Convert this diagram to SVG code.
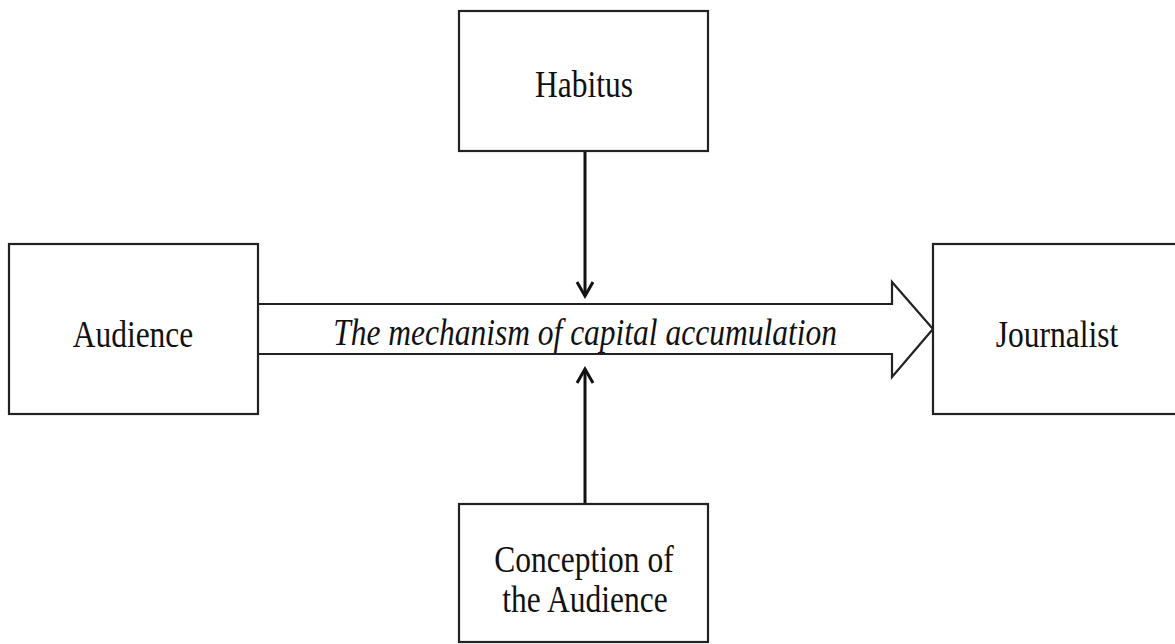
<svg xmlns="http://www.w3.org/2000/svg" width="1175" height="644" viewBox="0 0 1175 644">
<style>
.box{fill:#fff;stroke:#222;stroke-width:2.2}
.t{font-family:"Liberation Serif","Times New Roman",serif;font-size:31.5px;fill:#111;text-anchor:middle}
.it{font-style:italic}
.ln{stroke:#111;stroke-width:3;fill:none}
.big{fill:#fff;stroke:#222;stroke-width:2.2;stroke-linejoin:miter}
</style>
<defs>
<marker id="ah" viewBox="0 0 20 20" refX="17" refY="10" markerWidth="20" markerHeight="20" markerUnits="userSpaceOnUse" orient="auto">
<path d="M3,2 L17,10 L3,18" fill="none" stroke="#111" stroke-width="3"/>
</marker>
</defs>
<rect width="1175" height="644" fill="#fff"/>
<g id="connectors">
<path class="big" d="M257,304 H892 V282 L933,329 L892,377 V354 H257"/>
<line class="ln" x1="585" y1="151" x2="585" y2="296" marker-end="url(#ah)"/>
<line class="ln" x1="585" y1="504" x2="585" y2="369" marker-end="url(#ah)"/>
<text class="t it" transform="translate(585,345) scale(1,1.2)">The mechanism of capital accumulation</text>
</g>
<g id="habitus">
<rect class="box" x="459" y="11" width="249" height="140"/>
<text class="t" transform="translate(584,97) scale(1,1.2)">Habitus</text>
</g>
<g id="audience">
<rect class="box" x="9" y="244" width="249" height="170"/>
<text class="t" transform="translate(133,347) scale(1,1.2)">Audience</text>
</g>
<g id="journalist">
<rect class="box" x="933" y="244" width="250" height="170"/>
<text class="t" transform="translate(1057,347) scale(1,1.2)">Journalist</text>
</g>
<g id="conception">
<rect class="box" x="459" y="504" width="249" height="138"/>
<text class="t" transform="translate(584,572) scale(1,1.2)">Conception of</text>
<text class="t" transform="translate(585,612) scale(1,1.2)">the Audience</text>
</g>
</svg>
